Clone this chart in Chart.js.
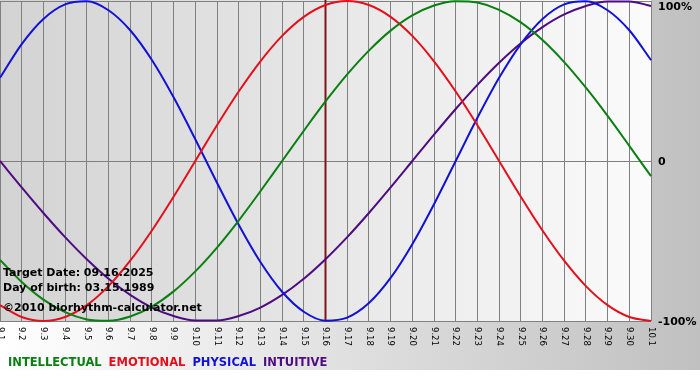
<!DOCTYPE html>
<html>
<head>
 <title>Biorhythm Chart</title>
 <script src="https://cdn.jsdelivr.net/npm/chart.js"></script>
 <style>
  body { margin: 0; background: #fff; }
  #chart { display: block; }
 </style>
</head>
<body>
 <canvas id="chart" width="700" height="380"></canvas>

 <script>
  // Days shown on the x axis (month.day)
  const days = ['9.1','9.2','9.3','9.4','9.5','9.6','9.7','9.8','9.9','9.10',
   '9.11','9.12','9.13','9.14','9.15','9.16','9.17','9.18','9.19','9.20',
   '9.21','9.22','9.23','9.24','9.25','9.26','9.27','9.28','9.29','9.30','10.1'];

  // Cycle values in percent, one per day
  const intellectual = [-61.8,-75.6,-86.6,-94.5,-99.0,-99.9,-97.2,-91.0,-81.5,-69.0,-54.1,-37.2,-18.9,0,18.9,37.2,
   54.1,69.0,81.5,91.0,97.2,99.9,99.0,94.5,86.6,75.6,61.8,45.8,28.2,9.5,-9.5];
  const emotional = [-90.1,-97.5,-100,-97.5,-90.1,-78.2,-62.3,-43.4,-22.3,0,22.3,43.4,62.3,78.2,90.1,97.5,
   100,97.5,90.1,78.2,62.3,43.4,22.3,0,-22.3,-43.4,-62.3,-78.2,-90.1,-97.5,-100];
  const physical = [52.0,73.1,88.8,97.9,99.8,94.2,81.7,63.1,39.8,13.6,-13.6,-39.8,-63.1,-81.7,-94.2,-99.8,
   -97.9,-88.8,-73.1,-52.0,-27.0,0,27.0,52.0,73.1,88.8,97.9,99.8,94.2,81.7,63.1];
  const intuitive = [0,-16.5,-32.5,-47.6,-61.4,-73.6,-83.7,-91.6,-96.9,-99.7,-99.7,-96.9,-91.6,-83.7,-73.6,-61.4,
   -47.6,-32.5,-16.5,0,16.5,32.5,47.6,61.4,73.6,83.7,91.6,96.9,99.7,99.7,96.9];

  const yTicks = [100, 0, -100];
  const yTickText = ['100%', '0', '-100%'];
  const targetDay = '9.16';
  const infoLines = ['Target Date: 09.16.2025', 'Day of birth: 03.15.1989', '\u00a92010 biorhythm-calculator.net'];

  // backgrounds, target marker, side labels, rotated day labels, legend
  const decorations = {
   id: 'decorations',
   beforeDraw(chart) {
    const ctx = chart.ctx, a = chart.chartArea;
    ctx.save();
    ctx.fillStyle = '#ffffff';
    ctx.fillRect(0, 0, chart.width, chart.height);
    let g = ctx.createLinearGradient(0, 0, chart.width, 0);
    g.addColorStop(0, '#ffffff');
    g.addColorStop(1, '#c0c0c0');
    ctx.fillStyle = g;
    ctx.fillRect(0, 0, chart.width, 370);
    g = ctx.createLinearGradient(a.left, 0, a.right, 0);
    g.addColorStop(0, '#d3d3d3');
    g.addColorStop(1, '#fbfbfb');
    ctx.fillStyle = g;
    ctx.fillRect(a.left, 0, a.right - a.left, a.bottom);
    ctx.restore();
   },
   beforeDatasetsDraw(chart) {
    const ctx = chart.ctx, a = chart.chartArea;
    const x = chart.scales.x.getPixelForValue(days.indexOf(targetDay));
    ctx.save();
    ctx.strokeStyle = '#7d1818';
    ctx.lineWidth = 2;
    ctx.beginPath();
    ctx.moveTo(x, 0);
    ctx.lineTo(x, a.bottom);
    ctx.stroke();
    ctx.restore();
   },
   afterDraw(chart) {
    const ctx = chart.ctx, a = chart.chartArea;
    const xs = chart.scales.x, ys = chart.scales.y;
    ctx.save();

    // info text over the plot
    ctx.fillStyle = '#000';
    ctx.font = 'bold 11px "DejaVu Sans"';
    ctx.textAlign = 'left';
    ctx.textBaseline = 'alphabetic';
    const baselines = [276, 291, 311];
    infoLines.forEach((t, i) => ctx.fillText(t, 3, baselines[i]));

    // percent labels on the right
    ctx.font = 'bold 11px "DejaVu Sans"';
    ctx.textBaseline = 'middle';
    yTicks.forEach((v, i) => {
     const y = Math.max(ys.getPixelForValue(v) + 1, 7);
     ctx.fillText(yTickText[i], a.right + 7, y);
    });

    // day labels, rotated to read downward
    ctx.font = '8.5px "DejaVu Sans"';
    days.forEach((d, i) => {
     ctx.save();
     ctx.translate(xs.getPixelForValue(i), a.bottom + 6);
     ctx.rotate(Math.PI / 2);
     ctx.textBaseline = 'middle';
     ctx.fillText(d, 0, 0);
     ctx.restore();
    });

    // coloured legend text
    ctx.font = 'bold 11.5px "DejaVu Sans"';
    ctx.textBaseline = 'alphabetic';
    let lx = 8;
    chart.data.datasets.forEach(ds => {
     ctx.fillStyle = ds.borderColor;
     ctx.fillText(ds.label, lx, 366);
     lx += ctx.measureText(ds.label).width + 7;
    });
    ctx.restore();
   }
  };

  const ctx = document.getElementById('chart').getContext('2d');
  const chart = new Chart(ctx, {
   type: 'line',
   data: {
    labels: days,
    datasets: [
     { label: 'INTELLECTUAL', data: intellectual, borderColor: '#0a7f12' },
     { label: 'EMOTIONAL', data: emotional, borderColor: '#e3101c' },
     { label: 'PHYSICAL', data: physical, borderColor: '#1212d6' },
     { label: 'INTUITIVE', data: intuitive, borderColor: '#4e0c80' }
    ].map(d => Object.assign(d, {
     borderWidth: 2, pointRadius: 0, cubicInterpolationMode: 'monotone', fill: false, clip: 4
    }))
   },
   options: {
    responsive: false,
    animation: false,
    devicePixelRatio: 1,
    layout: { padding: { left: 0, right: 49, top: 1, bottom: 59 } },
    plugins: { legend: { display: false }, tooltip: { enabled: false } },
    scales: {
     x: {
      offset: false,
      ticks: { display: false },
      grid: { color: '#808080', drawTicks: false },
      border: { display: false }
     },
     y: {
      min: -100,
      max: 100,
      ticks: { display: false, stepSize: 100 },
      grid: { color: '#808080', drawTicks: false },
      border: { display: false }
     }
    }
   },
   plugins: [decorations]
  });
 </script>
</body>
</html>
